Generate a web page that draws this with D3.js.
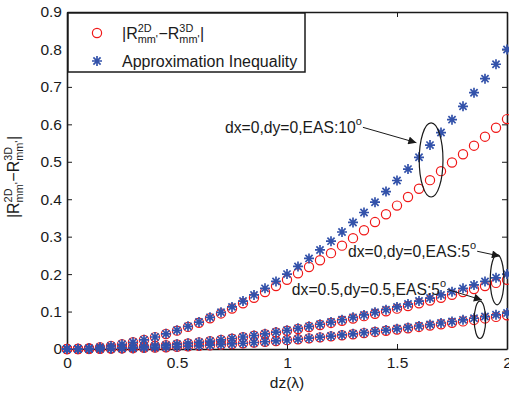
<!DOCTYPE html>
<html>
<head>
<meta charset="utf-8">
<script src="https://cdn.jsdelivr.net/npm/d3@7"></script>
<style>
  body { margin: 0; background: #fff; }
  svg { font-family: "Liberation Sans", Arial, Helvetica, sans-serif; }
  text { fill: #1a1a1a; }
</style>
</head>
<body>
<svg id="chart"></svg>
<script>
// ! Data, dz from 0 to 2 step 0.05
var dz = d3.range(41).map(function (i) { return i * 0.05; });

// dx=0, dy=0, EAS 10 deg
var diff10 = [0, 0.0005, 0.002, 0.0045, 0.008, 0.0125, 0.018, 0.0243, 0.0318, 0.040,
  0.049, 0.059, 0.070, 0.082, 0.095, 0.108, 0.122, 0.137, 0.152, 0.168,
  0.185, 0.202, 0.219, 0.237, 0.256, 0.276, 0.296, 0.317, 0.339, 0.360,
  0.383, 0.406, 0.428, 0.451, 0.475, 0.498, 0.520, 0.543, 0.567, 0.591, 0.614];
var approx10 = [0, 0.0005, 0.002, 0.0045, 0.008, 0.0125, 0.018, 0.0245, 0.032, 0.0405,
  0.05, 0.0605, 0.072, 0.0845, 0.098, 0.1125, 0.128, 0.1445, 0.162, 0.1805,
  0.2, 0.2205, 0.242, 0.2645, 0.288, 0.3125, 0.338, 0.3645, 0.392, 0.4205,
  0.45, 0.4805, 0.512, 0.5445, 0.578, 0.6125, 0.648, 0.6845, 0.722, 0.7605, 0.8];

// dx=0, dy=0, EAS 5 deg
var diff5 = [0, 0.0001, 0.0005, 0.0011, 0.002, 0.0031, 0.0045, 0.006, 0.0079, 0.010,
  0.0123, 0.0149, 0.0177, 0.0207, 0.024, 0.0275, 0.0313, 0.0352, 0.0395, 0.0439,
  0.0486, 0.0535, 0.0586, 0.064, 0.0696, 0.0754, 0.0814, 0.0877, 0.0942, 0.1008,
  0.1077, 0.1148, 0.122, 0.1295, 0.137, 0.1448, 0.152, 0.160, 0.168, 0.1765, 0.185];
var approx5 = [0, 0.0001, 0.0005, 0.0011, 0.002, 0.0031, 0.0045, 0.0061, 0.008, 0.0101,
  0.0125, 0.0151, 0.018, 0.0211, 0.0245, 0.0281, 0.032, 0.0361, 0.0405, 0.0451,
  0.05, 0.0551, 0.0605, 0.0661, 0.072, 0.0781, 0.0845, 0.0911, 0.098, 0.1051,
  0.1125, 0.1201, 0.128, 0.1361, 0.1445, 0.1531, 0.162, 0.1711, 0.1805, 0.1901, 0.2];

// dx=0.5, dy=0.5, EAS 5 deg
var diff5off = [0, 0.0001, 0.0002, 0.0005, 0.001, 0.0015, 0.0022, 0.0029, 0.0038, 0.0048,
  0.006, 0.0072, 0.0086, 0.0101, 0.0117, 0.0134, 0.0152, 0.0171, 0.0192, 0.0214,
  0.0236, 0.026, 0.0285, 0.0311, 0.0338, 0.0366, 0.0395, 0.0425, 0.0456, 0.0488,
  0.0521, 0.0554, 0.0589, 0.0625, 0.0662, 0.0699, 0.0737, 0.0776, 0.0816, 0.0857, 0.0899];
var approx5off = [0, 0.0001, 0.0002, 0.0005, 0.001, 0.0015, 0.0022, 0.0029, 0.0038, 0.0049,
  0.006, 0.0073, 0.0086, 0.0101, 0.0118, 0.0135, 0.0154, 0.0173, 0.0194, 0.0217,
  0.024, 0.0265, 0.029, 0.0317, 0.0346, 0.0375, 0.0406, 0.0437, 0.047, 0.0505,
  0.054, 0.0577, 0.0614, 0.0653, 0.0694, 0.0735, 0.0778, 0.0821, 0.0866, 0.0913, 0.096];

var xTicks = [0, 0.5, 1, 1.5, 2];
var yTicks = [0, 0.1, 0.2, 0.3, 0.4, 0.5, 0.6, 0.7, 0.8, 0.9];

// annotations: label, label anchor, arrow tip, ellipse centre and radii (data units)
var notes = [
  { label: "dx=0,dy=0,EAS:10", tx: 0.718, ty: 0.576, ax: 1.588, ay: 0.551, cx: 1.655, cy: 0.505, rx: 0.054, ry: 0.099 },
  { label: "dx=0,dy=0,EAS:5", tx: 1.277, ty: 0.245, ax: 1.968, ay: 0.248, cx: 1.955, cy: 0.185, rx: 0.031, ry: 0.067 },
  { label: "dx=0.5,dy=0.5,EAS:5", tx: 1.022, ty: 0.143, ax: 1.886, ay: 0.131, cx: 1.877, cy: 0.078, rx: 0.026, ry: 0.050 }
];

var width = 509, height = 393;
var margin = { left: 67, right: 2, top: 12, bottom: 44 };
var svg = d3.select("#chart").attr("width", width).attr("height", height);

var x = d3.scaleLinear().domain([0, 2]).range([margin.left, width - margin.right]);
var y = d3.scaleLinear().domain([0, 0.9]).range([height - margin.bottom, margin.top]);

var ink = "#1a1a1a";
var red = "#f01818";
var blue = "#3352aa";

// rich text: plain runs and stacked sup/sub runs, returns total width
function rich(g, parts, fs) {
  var cx = 0;
  parts.forEach(function (p) {
    if (p.t !== undefined) {
      var t = g.append("text").attr("x", cx).style("font-size", fs + "px").text(p.t);
      cx += t.node().getComputedTextLength();
    } else {
      var s = fs * 0.68;
      var a = g.append("text").attr("x", cx).attr("y", -fs * 0.46).style("font-size", s + "px").text(p.sup);
      var b = g.append("text").attr("x", cx).attr("y", fs * 0.27).style("font-size", s + "px").text(p.sub);
      cx += Math.max(a.node().getComputedTextLength(), b.node().getComputedTextLength()) + 0.5;
    }
  });
  return cx;
}
var diffParts = [{ t: "|R" }, { sup: "2D", sub: "mm'" }, { t: "\u2212R" }, { sup: "3D", sub: "mm'" }, { t: "|" }];

// ! Axes box with inward ticks
var fsTick = 15.5;
svg.append("g").attr("transform", "translate(0," + y(0) + ")")
  .call(d3.axisBottom(x).tickValues(xTicks).tickSizeInner(-5).tickSizeOuter(0).tickPadding(8).tickFormat(d3.format("")));
svg.append("g").attr("transform", "translate(" + x(0) + ",0)")
  .call(d3.axisLeft(y).tickValues(yTicks).tickSizeInner(-5).tickSizeOuter(0).tickPadding(5).tickFormat(d3.format("")));
svg.append("g").attr("transform", "translate(0," + y(0.9) + ")")
  .call(d3.axisTop(x).tickValues(xTicks).tickSizeInner(-5).tickSizeOuter(0).tickFormat(""));
svg.append("g").attr("transform", "translate(" + x(2) + ",0)")
  .call(d3.axisRight(y).tickValues(yTicks).tickSizeInner(-5).tickSizeOuter(0).tickFormat(""));
svg.selectAll(".domain").attr("stroke", ink).attr("stroke-width", 1.6);
svg.selectAll(".tick line").attr("stroke", ink).attr("stroke-width", 1);
svg.selectAll(".tick text").attr("fill", ink).style("font-size", fsTick + "px")
  .style("font-family", "'Liberation Sans', Arial, sans-serif");

svg.append("text").attr("x", x(1)).attr("y", 388).attr("text-anchor", "middle")
  .style("font-size", fsTick + "px").text("dz(\u03bb)");

var yl = svg.append("g");
var ylw = rich(yl, diffParts, 16);
yl.attr("transform", "translate(19," + (177) + ") rotate(-90) translate(" + (-ylw / 2) + ",0)");

// ! Markers
var circles = [diff10, diff5, diff5off];
var stars = [approx10, approx5, approx5off];
var starPath = "M-5,0H5M0,-5V5M-3.6,-3.6L3.6,3.6M-3.6,3.6L3.6,-3.6";

var plot = svg.append("g");
circles.forEach(function (vals) {
  plot.append("g").selectAll("circle").data(vals).enter().append("circle")
    .attr("cx", function (d, i) { return x(dz[i]); })
    .attr("cy", function (d) { return y(d); })
    .attr("r", 4.6).attr("fill", "none").attr("stroke", red).attr("stroke-width", 1.2);
});
stars.forEach(function (vals) {
  plot.append("g").selectAll("path").data(vals).enter().append("path")
    .attr("transform", function (d, i) { return "translate(" + x(dz[i]) + "," + y(d) + ")"; })
    .attr("d", starPath).attr("stroke", blue).attr("stroke-width", 1.7).attr("fill", "none");
});

// ! Annotations
svg.append("defs").append("marker").attr("id", "head").attr("viewBox", "0 0 10 10")
  .attr("refX", 10).attr("refY", 5).attr("markerWidth", 10).attr("markerHeight", 8)
  .attr("markerUnits", "userSpaceOnUse").attr("orient", "auto")
  .append("path").attr("d", "M0,0L10,5L0,10Z").attr("fill", ink);

notes.forEach(function (n) {
  var t = svg.append("text").attr("x", x(n.tx)).attr("y", y(n.ty)).style("font-size", "15.7px").text(n.label);
  t.append("tspan").attr("dy", -8).style("font-size", "11px").text("o");
  var end = x(n.tx) + t.node().getComputedTextLength() + 1;
  svg.append("line").attr("x1", end).attr("y1", y(n.ty) - 6).attr("x2", x(n.ax)).attr("y2", y(n.ay))
    .attr("stroke", ink).attr("stroke-width", 1).attr("marker-end", "url(#head)");
  svg.append("ellipse").attr("cx", x(n.cx)).attr("cy", y(n.cy))
    .attr("rx", x(n.rx) - x(0)).attr("ry", y(0) - y(n.ry))
    .attr("fill", "none").attr("stroke", ink).attr("stroke-width", 1.2);
});

// ! Legend
var lg = svg.append("g");
lg.append("rect").attr("x", 68).attr("y", 13).attr("width", 237).attr("height", 59)
  .attr("fill", "#fff").attr("stroke", ink).attr("stroke-width", 1.5);
lg.append("circle").attr("cx", 97).attr("cy", 33).attr("r", 4.6)
  .attr("fill", "none").attr("stroke", red).attr("stroke-width", 1.2);
lg.append("path").attr("transform", "translate(97,61)").attr("d", starPath)
  .attr("stroke", blue).attr("stroke-width", 1.7);
var l1 = lg.append("g").attr("transform", "translate(122,39)");
rich(l1, diffParts, 16);
lg.append("text").attr("x", 122).attr("y", 67).style("font-size", "16px").text("Approximation Inequality");
</script>
</body>
</html>
